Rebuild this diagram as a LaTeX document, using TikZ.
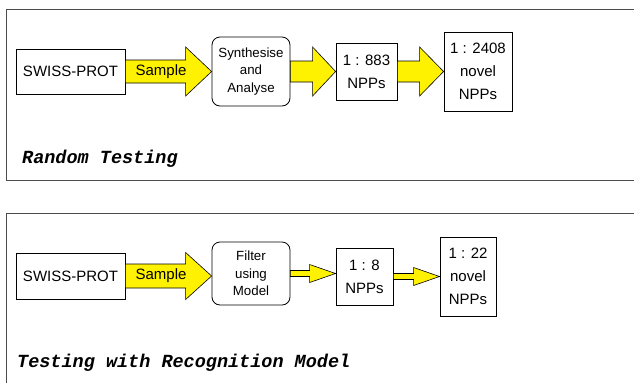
\documentclass[tikz,border=0pt]{standalone}
\usepackage{fontspec}
\setmainfont{Liberation Sans}
\newfontfamily\captionfont{Liberation Mono}
\usetikzlibrary{calc}

% block arrow from the east side of #1 to the west side of #2
% #3 shaft half width, #4 head half width, #5 head length
\newcommand\blockarrow[5]{%
  \coordinate (arrbase) at (#1.east);
  \coordinate (arrtip) at (#2.west |- #1.east);
  \draw[fatarrow] ($(arrbase)+(0,#3)$) -- ($(arrtip)+(-#5,#3)$)
    -- ($(arrtip)+(-#5,#4)$) -- (arrtip) -- ($(arrtip)+(-#5,-#4)$)
    -- ($(arrtip)+(-#5,-#3)$) -- ($(arrbase)+(0,-#3)$) -- cycle;}

\begin{document}
\begin{tikzpicture}[x=1bp,y=-1bp,
    panel/.style={draw=black!70,line width=1bp},
    box/.style={draw,line width=.8bp,fill=white,inner sep=0pt,align=center,
      font=\fontsize{15bp}{23bp}\selectfont},
    roundbox/.style={box,rounded corners=8bp,
      font=\fontsize{13.3bp}{17.5bp}\selectfont},
    fatarrow/.style={draw,line width=.6bp,fill=yellow},
    armlabel/.style={inner sep=0pt,font=\fontsize{15bp}{18bp}\selectfont},
    title/.style={anchor=base west,inner sep=0pt,
      font=\captionfont\bfseries\itshape\fontsize{18.5bp}{22bp}\selectfont}
    ]
    \useasboundingbox (0,0) rectangle (634,382);

    % random testing
    \draw[panel] (6,9) rectangle (645,180);
    \node[box,minimum width=109bp,minimum height=45bp] (sp1) at (70.5,71.5) {SWISS-PROT};
    \node[roundbox,minimum width=78bp,minimum height=69bp] (syn1) at (251,71.5)
      {Synthesise\\and\\Analyse};
    \node[box,minimum width=61bp,minimum height=57bp] (npp1) at (366.5,71.5) {1 : 883\\NPPs};
    \node[box,minimum width=68bp,minimum height=79bp] (nov1) at (478,71.5)
      {1 : 2408\\novel\\NPPs};
    \blockarrow{sp1}{syn1}{11.5bp}{24.5bp}{26bp}
    \blockarrow{syn1}{npp1}{10.5bp}{24.5bp}{23bp}
    \blockarrow{npp1}{nov1}{10.5bp}{24.5bp}{24bp}
    \node[armlabel] (smp1) at (161,71.5) {Sample};
    \node[title] (t1) at (22,163) {Random Testing};

    % testing with the model
    \draw[panel] (6,213) rectangle (645,395);
    \node[box,minimum width=109bp,minimum height=46bp] (sp2) at (70.5,276) {SWISS-PROT};
    \node[roundbox,minimum width=78bp,minimum height=63bp] (fil2) at (251,273.5)
      {Filter\\using\\Model};
    \node[box,minimum width=57bp,minimum height=57bp] (npp2) at (364.5,276.5) {1 : 8\\NPPs};
    \node[box,minimum width=56bp,minimum height=79bp] (nov2) at (468,276.5)
      {1 : 22\\novel\\NPPs};
    \blockarrow{sp2}{fil2}{12bp}{23.5bp}{26bp}
    \blockarrow{fil2}{npp2}{3bp}{9bp}{26bp}
    \blockarrow{npp2}{nov2}{3bp}{9bp}{26bp}
    \node[armlabel] (smp2) at (161,276) {Sample};
    \node[title] (t2) at (17,367) {Testing with Recognition Model};
  \end{tikzpicture}
\end{document}
